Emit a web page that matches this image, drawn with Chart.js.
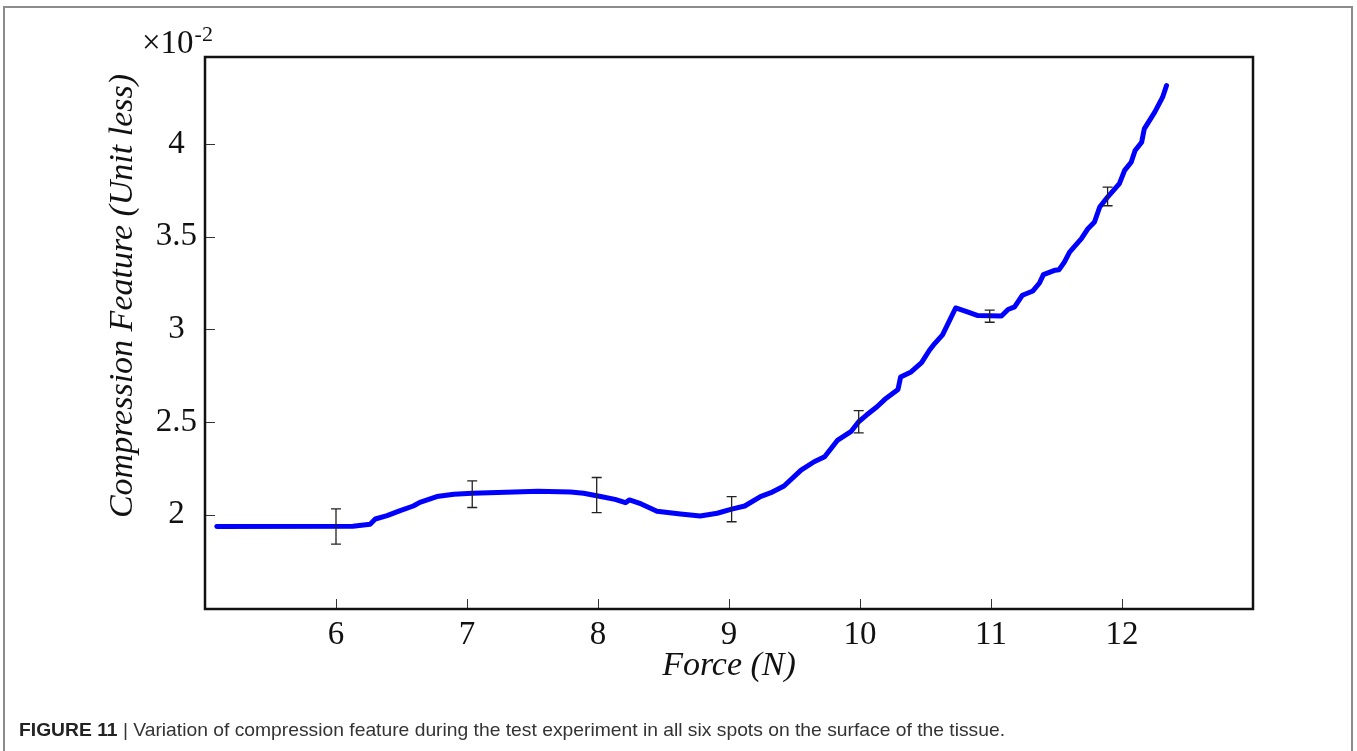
<!DOCTYPE html>
<html lang="en">
<head>
  <meta charset="UTF-8">
  <title>Compression feature vs force</title>
  <script src="https://cdn.jsdelivr.net/npm/chart.js"></script>
  <style>
    body { margin: 0; background: #fff; }
    #wrap { width: 1357px; height: 751px; }
  </style>
</head>
<body>
  <div id="wrap">
    <canvas id="chartCompression" width="1357" height="751"></canvas>
  </div>
  <script>
    // curve (force in N, feature in units of 1e-2)
    const force = [
      5.09, 6.13, 6.26, 6.30, 6.39, 6.49, 6.59, 6.64, 6.77, 6.90,
      7.04, 7.36, 7.54, 7.79, 7.89, 8.02, 8.13, 8.21, 8.24, 8.33,
      8.45, 8.63, 8.78, 8.91, 9.02, 9.12, 9.24, 9.32, 9.42, 9.55,
      9.65, 9.73, 9.83, 9.93, 9.99, 10.05, 10.13, 10.19, 10.29, 10.31,
      10.39, 10.47, 10.53, 10.57, 10.63, 10.73, 10.82, 10.90, 11.08, 11.13,
      11.18, 11.24, 11.32, 11.37, 11.40, 11.49, 11.52, 11.56, 11.60, 11.69,
      11.74, 11.79, 11.83, 11.89, 11.98, 12.02, 12.07, 12.10, 12.15, 12.17,
      12.25, 12.31, 12.34
    ];
    const feature = [
      1.935, 1.937, 1.948, 1.976, 1.994, 2.021, 2.046, 2.066, 2.097, 2.109,
      2.115, 2.122, 2.126, 2.122, 2.115, 2.097, 2.082, 2.064, 2.079, 2.057,
      2.018, 2.003, 1.992, 2.007, 2.029, 2.046, 2.097, 2.118, 2.154, 2.240,
      2.285, 2.312, 2.402, 2.447, 2.501, 2.537, 2.582, 2.622, 2.675, 2.743,
      2.770, 2.820, 2.887, 2.923, 2.970, 3.115, 3.094, 3.074, 3.072, 3.107,
      3.121, 3.184, 3.207, 3.250, 3.295, 3.319, 3.322, 3.363, 3.417, 3.489,
      3.543, 3.579, 3.660, 3.714, 3.786, 3.858, 3.902, 3.965, 4.010, 4.082,
      4.172, 4.253, 4.316
    ];

    // error bars (center and half length)
    const errForce = [6.00, 7.04, 7.99, 9.02, 9.99, 10.99, 11.89];
    const errMean  = [1.935, 2.110, 2.105, 2.029, 2.501, 3.071, 3.717];
    const errHalf  = [0.095, 0.072, 0.095, 0.068, 0.060, 0.033, 0.050];

    // tick labels
    const xTicks = [6, 7, 8, 9, 10, 11, 12];
    const yTicks = [2, 2.5, 3, 3.5, 4];

    const serif = '"Liberation Serif", "Times New Roman", serif';
    const sans = '"Liberation Sans", Arial, sans-serif';

    const points = force.map((f, i) => ({ x: f, y: feature[i] }));

    const extras = {
      id: 'extras',
      beforeDraw(chart) {
        const ctx = chart.ctx;
        ctx.save();
        ctx.fillStyle = '#fff';
        ctx.fillRect(0, 0, chart.width, chart.height);
        ctx.restore();
      },
      afterDatasetsDraw(chart) {
        const ctx = chart.ctx;
        const sx = chart.scales.x, sy = chart.scales.y;
        ctx.save();
        ctx.strokeStyle = '#222';
        ctx.lineWidth = 1.3;
        errForce.forEach((f, i) => {
          const px = sx.getPixelForValue(f);
          const top = sy.getPixelForValue(errMean[i] + errHalf[i]);
          const bot = sy.getPixelForValue(errMean[i] - errHalf[i]);
          ctx.beginPath();
          ctx.moveTo(px, top); ctx.lineTo(px, bot);
          ctx.moveTo(px - 5, top); ctx.lineTo(px + 5, top);
          ctx.moveTo(px - 5, bot); ctx.lineTo(px + 5, bot);
          ctx.stroke();
        });
        ctx.restore();
      },
      afterDraw(chart) {
        const ctx = chart.ctx;
        const a = chart.chartArea;
        const sx = chart.scales.x, sy = chart.scales.y;
        ctx.save();

        // inward ticks
        ctx.strokeStyle = '#333';
        ctx.lineWidth = 1;
        ctx.beginPath();
        xTicks.forEach(v => {
          const px = Math.round(sx.getPixelForValue(v)) + 0.5;
          ctx.moveTo(px, a.bottom); ctx.lineTo(px, a.bottom - 10);
        });
        yTicks.forEach(v => {
          const py = Math.round(sy.getPixelForValue(v)) + 0.5;
          ctx.moveTo(a.left, py); ctx.lineTo(a.left + 10, py);
        });
        ctx.stroke();

        // axes box
        ctx.strokeStyle = '#111';
        ctx.lineWidth = 2.5;
        ctx.strokeRect(a.left, a.top, a.right - a.left, a.bottom - a.top);

        // axis titles
        ctx.fillStyle = '#111';
        ctx.font = 'italic 34px ' + serif;
        ctx.textAlign = 'center';
        ctx.textBaseline = 'middle';
        ctx.fillText('Force (N)', (a.left + a.right) / 2, 666);
        ctx.save();
        ctx.translate(123, 296);
        ctx.rotate(-Math.PI / 2);
        ctx.fillText('Compression Feature (Unit less)', 0, 0);
        ctx.restore();

        // exponent
        ctx.textAlign = 'left';
        ctx.textBaseline = 'alphabetic';
        ctx.font = '33px ' + serif;
        ctx.fillText('\u00d710', 142, 53);
        const w10 = ctx.measureText('\u00d710').width;
        ctx.font = '22px ' + serif;
        ctx.fillText('-2', 142 + w10 + 1, 41);

        // caption
        const bold = 'bold 19px ' + sans, reg = '19px ' + sans;
        const parts = [
          [bold, 'FIGURE 11', '#222'],
          [reg, ' | ', '#333'],
          [reg, 'Variation of compression feature during the test experiment in all six spots on the surface of the tissue.', '#333']
        ];
        let total = 0;
        parts.forEach(p => { ctx.font = p[0]; total += ctx.measureText(p[1]).width; });
        ctx.translate(19, 736);
        ctx.scale(986 / total, 1);
        let cx = 0;
        parts.forEach(p => {
          ctx.font = p[0];
          ctx.fillStyle = p[2];
          ctx.fillText(p[1], cx, 0);
          cx += ctx.measureText(p[1]).width;
        });
        ctx.restore();

        // outer figure frame
        ctx.save();
        ctx.strokeStyle = '#8c8c8c';
        ctx.lineWidth = 2;
        ctx.beginPath();
        ctx.moveTo(4, chart.height); ctx.lineTo(4, 7);
        ctx.lineTo(1352, 7); ctx.lineTo(1352, chart.height);
        ctx.stroke();
        ctx.restore();
      }
    };

    const ctxCompression = document.getElementById('chartCompression').getContext('2d');
    const myChartCompression = new Chart(ctxCompression, {
      type: 'line',
      data: {
        datasets: [{
          label: 'Compression feature',
          data: points,
          borderColor: 'rgb(0, 0, 255)',
          borderWidth: 5,
          borderJoinStyle: 'round',
          borderCapStyle: 'round',
          pointRadius: 0,
          tension: 0,
          fill: false
        }]
      },
      options: {
        responsive: false,
        animation: false,
        layout: { padding: { left: 0, right: 104, top: 57, bottom: 0 } },
        plugins: {
          legend: { display: false },
          tooltip: { enabled: false }
        },
        scales: {
          x: {
            type: 'linear',
            min: 5,
            max: 13,
            afterBuildTicks: s => { s.ticks = xTicks.map(v => ({ value: v })); },
            afterFit: s => { s.height = 142; },
            grid: { display: false, drawTicks: false },
            border: { display: false },
            ticks: {
              padding: 7,
              color: '#111',
              font: { family: serif, size: 33 },
              callback: v => String(v)
            }
          },
          y: {
            type: 'linear',
            min: 1.49,
            max: 4.47,
            afterBuildTicks: s => { s.ticks = yTicks.map(v => ({ value: v })); },
            afterFit: s => { s.width = 205; },
            grid: { display: false, drawTicks: false },
            border: { display: false },
            ticks: {
              padding: 8,
              crossAlign: 'center',
              color: '#111',
              font: { family: serif, size: 33 },
              callback: v => String(v)
            }
          }
        }
      },
      plugins: [extras]
    });
  </script>
</body>
</html>
